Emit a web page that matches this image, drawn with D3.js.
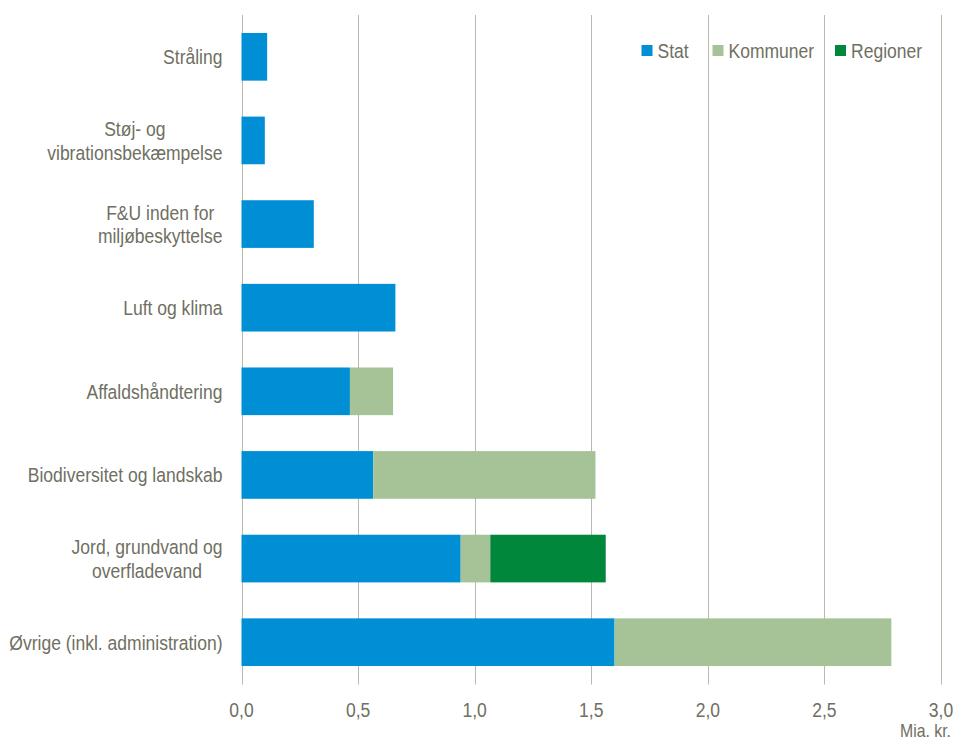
<!DOCTYPE html>
<html>
<head>
<meta charset="utf-8">
<script src="https://cdn.jsdelivr.net/npm/d3@7"></script>
<style>
  body { margin: 0; background: #fff; }
  text { font-family: "Liberation Sans Narrow", "Arial Narrow", "Liberation Sans", sans-serif; fill: #6f6f62; }
</style>
</head>
<body>
<div id="chart"></div>
<script>
// Categories, top to bottom, with line breaks as in the original.
var categories = [
    ["Stråling"],
    ["Støj- og", "vibrationsbekæmpelse"],
    ["F&U inden for", "miljøbeskyttelse"],
    ["Luft og klima"],
    ["Affaldshåndtering"],
    ["Biodiversitet og landskab"],
    ["Jord, grundvand og", "overfladevand"],
    ["Øvrige (inkl. administration)"]
];
var seriesNames = ["Stat", "Kommuner", "Regioner"];
var seriesColors = ["#008fd5", "#a5c397", "#00873b"];

// Mia. kr.
var stat      = [0.11, 0.10, 0.31, 0.66, 0.465, 0.565, 0.94, 1.60];
var kommuner  = [0,    0,    0,    0,    0.185, 0.953, 0.127, 1.187];
var regioner  = [0,    0,    0,    0,    0,     0,     0.495, 0];

var xTicks = [0, 0.5, 1.0, 1.5, 2.0, 2.5, 3.0];

var width = 957, height = 740;
var margin = {top: 15, right: 16, bottom: 56, left: 241.5};
var squeeze = 0.855; // no narrow font installed, so condense horizontally

var svg = d3.select("#chart").append("svg")
    .attr("width", width)
    .attr("height", height);

// Adds a horizontally condensed text at (px, py).
function narrow(parent, px, py, str, size, anchor) {
    return parent.append("text")
        .attr("transform", "translate(" + px + "," + py + ") scale(" + squeeze + ",1)")
        .attr("text-anchor", anchor)
        .attr("font-size", size)
        .text(str);
}

var x = d3.scaleLinear()
    .domain([0, 3])
    .range([margin.left, width - margin.right]);

var y = d3.scaleBand()
    .domain(d3.range(categories.length))
    .range([margin.top, height - margin.bottom])
    .paddingInner(0.43)
    .paddingOuter(0.215);

// Gridlines
svg.append("g").selectAll("line").data(xTicks)
  .enter().append("line")
    .attr("x1", function(d) { return Math.round(x(d)) + 0.5; })
    .attr("x2", function(d) { return Math.round(x(d)) + 0.5; })
    .attr("y1", margin.top)
    .attr("y2", height - margin.bottom + 0.5)
    .attr("stroke", "#b9b9ac")
    .attr("stroke-width", 1);

// Stack the series
var rows = categories.map(function(c, i) {
    return {i: i, Stat: stat[i], Kommuner: kommuner[i], Regioner: regioner[i]};
});
var stacked = d3.stack().keys(seriesNames)(rows);

svg.append("g").selectAll("g").data(stacked)
  .enter().append("g")
    .attr("fill", function(d, i) { return seriesColors[i]; })
  .selectAll("rect").data(function(d) { return d; })
  .enter().filter(function(d) { return d[1] - d[0] > 0; }).append("rect")
    .attr("x", function(d) { return x(d[0]); })
    .attr("y", function(d) { return y(d.data.i); })
    .attr("width", function(d) { return x(d[1]) - x(d[0]); })
    .attr("height", y.bandwidth());

// Category labels: block is right-aligned, lines centred inside the block.
var lineH = 23.5, labelSize = 20.5, labelRight = margin.left - 19;
var labels = svg.append("g");
categories.forEach(function(lines, i) {
    var cy = y(i) + y.bandwidth() / 2;
    var first = cy - (lines.length - 1) * lineH / 2 + 7.5;
    var maxW = 0;
    var nodes = lines.map(function(line, k) {
        var t = narrow(labels, 0, 0, line, labelSize, "middle");
        maxW = Math.max(maxW, t.node().getComputedTextLength() * squeeze);
        return t;
    });
    nodes.forEach(function(t, k) {
        t.attr("transform", "translate(" + (labelRight - maxW / 2) + "," + (first + k * lineH) +
            ") scale(" + squeeze + ",1)");
    });
});

// X axis labels
var axisLabels = svg.append("g");
xTicks.forEach(function(d) {
    narrow(axisLabels, x(d), 717, d3.format(".1f")(d).replace(".", ","), 20.5, "middle");
});

narrow(svg, width - 6, 737, "Mia. kr.", 18.5, "end");

// Legend
var legendX = [641.5, 712.5, 835];
var legend = svg.append("g").selectAll("g").data(seriesNames)
  .enter().append("g")
    .attr("transform", function(d, i) { return "translate(" + legendX[i] + ",45)"; });
legend.append("rect")
    .attr("width", 11)
    .attr("height", 11)
    .attr("fill", function(d, i) { return seriesColors[i]; });
legend.each(function(d) {
    narrow(d3.select(this), 16, 12.5, d, 20.5, "start");
});
</script>
</body>
</html>
